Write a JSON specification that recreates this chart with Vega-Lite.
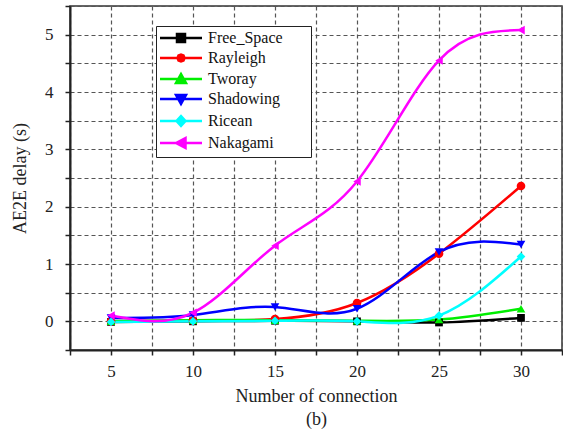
{
  "$schema": "https://vega.github.io/schema/vega-lite/v6.json",
  "width": 492,
  "height": 344,
  "autosize": {"type": "none"},
  "padding": {"left": 70, "top": 6, "right": 1, "bottom": 83},
  "background": "white",
  "config": {
    "view": {"stroke": "#333", "strokeWidth": 1.5},
    "font": "Liberation Serif, Times New Roman, serif",
    "axis": {
      "labelFont": "Liberation Serif, Times New Roman, serif",
      "titleFont": "Liberation Serif, Times New Roman, serif",
      "labelColor": "#222",
      "titleColor": "#222",
      "titleFontWeight": "normal",
      "domainColor": "#222",
      "domainWidth": 2,
      "tickColor": "#222",
      "tickWidth": 1.5,
      "tickSize": 5,
      "grid": true,
      "gridColor": "#555",
      "gridDash": [4, 3],
      "gridWidth": 1.2,
      "gridOpacity": 1
    },
    "legend": {
      "orient": "none",
      "legendX": 86,
      "legendY": 20,
      "padding": 4,
      "strokeColor": "#222",
      "fillColor": "white",
      "labelFont": "Liberation Serif, Times New Roman, serif",
      "labelFontSize": 16,
      "labelColor": "#111",
      "labelOffset": 32,
      "rowPadding": 2,
      "symbolSize": 100,
      "symbolOffset": 0,
      "symbolStrokeWidth": 2.5,
      "symbolOpacity": 1
    }
  },
  "data": {
    "values": [
      {"x": 5, "series": "Free_Space", "v": -0.01},
      {"x": 10, "series": "Free_Space", "v": 0.0},
      {"x": 15, "series": "Free_Space", "v": 0.01},
      {"x": 20, "series": "Free_Space", "v": 0.0},
      {"x": 25, "series": "Free_Space", "v": -0.02},
      {"x": 30, "series": "Free_Space", "v": 0.06},
      {"x": 5, "series": "Rayleigh", "v": 0.0},
      {"x": 10, "series": "Rayleigh", "v": 0.01},
      {"x": 15, "series": "Rayleigh", "v": 0.04},
      {"x": 20, "series": "Rayleigh", "v": 0.32},
      {"x": 25, "series": "Rayleigh", "v": 1.18},
      {"x": 30, "series": "Rayleigh", "v": 2.36},
      {"x": 5, "series": "Tworay", "v": 0.0},
      {"x": 10, "series": "Tworay", "v": 0.02},
      {"x": 15, "series": "Tworay", "v": 0.02},
      {"x": 20, "series": "Tworay", "v": 0.01},
      {"x": 25, "series": "Tworay", "v": 0.03},
      {"x": 30, "series": "Tworay", "v": 0.22},
      {"x": 5, "series": "Shadowing", "v": 0.06},
      {"x": 10, "series": "Shadowing", "v": 0.11},
      {"x": 15, "series": "Shadowing", "v": 0.25},
      {"x": 20, "series": "Shadowing", "v": 0.22},
      {"x": 25, "series": "Shadowing", "v": 1.21},
      {"x": 30, "series": "Shadowing", "v": 1.34},
      {"x": 5, "series": "Ricean", "v": -0.01},
      {"x": 10, "series": "Ricean", "v": 0.0},
      {"x": 15, "series": "Ricean", "v": 0.01},
      {"x": 20, "series": "Ricean", "v": 0.0},
      {"x": 25, "series": "Ricean", "v": 0.1},
      {"x": 30, "series": "Ricean", "v": 1.13},
      {"x": 5, "series": "Nakagami", "v": 0.1},
      {"x": 10, "series": "Nakagami", "v": 0.15},
      {"x": 15, "series": "Nakagami", "v": 1.32},
      {"x": 20, "series": "Nakagami", "v": 2.44},
      {"x": 25, "series": "Nakagami", "v": 4.55},
      {"x": 30, "series": "Nakagami", "v": 5.08}
    ]
  },
  "encoding": {
    "x": {
      "field": "x",
      "type": "quantitative",
      "scale": {"domain": [2.5, 32.5], "nice": false, "zero": false},
      "axis": {
        "values": [2.5, 5, 7.5, 10, 12.5, 15, 17.5, 20, 22.5, 25, 27.5, 30, 32.5],
        "labelExpr": "datum.value % 5 === 0 ? format(datum.value, 'd') : ''",
        "labelFontSize": 17,
        "labelPadding": 8,
        "title": ["Number of connection", "(b)"],
        "titleFontSize": 18,
        "titleLineHeight": 23,
        "titlePadding": 8
      }
    },
    "y": {
      "field": "v",
      "type": "quantitative",
      "scale": {"domain": [-0.5, 5.5], "nice": false, "zero": false},
      "axis": {
        "values": [-0.5, 0, 0.5, 1, 1.5, 2, 2.5, 3, 3.5, 4, 4.5, 5, 5.5],
        "labelExpr": "datum.value % 1 === 0 ? format(datum.value, 'd') : ''",
        "labelFontSize": 17,
        "labelPadding": 12,
        "title": "AE2E delay (s)",
        "titleFontSize": 18,
        "titlePadding": 15
      }
    },
    "color": {
      "field": "series",
      "type": "nominal",
      "scale": {
        "domain": ["Free_Space", "Rayleigh", "Tworay", "Shadowing", "Ricean", "Nakagami"],
        "range": ["#000000", "#ff0000", "#00ee00", "#0000ff", "#00ffff", "#ff00ff"]
      },
      "legend": {"title": null}
    }
  },
  "layer": [
    {
      "mark": {"type": "line", "interpolate": "natural", "strokeWidth": 2.5},
      "encoding": {"detail": {"field": "series"}}
    },
    {
      "transform": [{"filter": "datum.series === 'Free_Space'"}],
      "mark": {"type": "point", "filled": true, "shape": "square", "size": 60, "opacity": 1}
    },
    {
      "transform": [{"filter": "datum.series === 'Rayleigh'"}],
      "mark": {"type": "point", "filled": true, "shape": "circle", "size": 75, "opacity": 1}
    },
    {
      "transform": [{"filter": "datum.series === 'Tworay'"}],
      "mark": {"type": "point", "filled": true, "shape": "triangle-up", "size": 75, "opacity": 1}
    },
    {
      "transform": [{"filter": "datum.series === 'Shadowing'"}],
      "mark": {"type": "point", "filled": true, "shape": "triangle-down", "size": 75, "opacity": 1}
    },
    {
      "transform": [{"filter": "datum.series === 'Ricean'"}],
      "mark": {"type": "point", "filled": true, "shape": "diamond", "size": 75, "opacity": 1}
    },
    {
      "transform": [{"filter": "datum.series === 'Nakagami'"}],
      "mark": {"type": "point", "filled": true, "shape": "triangle-left", "size": 75, "opacity": 1}
    },
    {
      "mark": {"type": "point", "filled": true, "size": 0},
      "encoding": {
        "shape": {
          "field": "series",
          "type": "nominal",
          "scale": {
            "domain": ["Free_Space", "Rayleigh", "Tworay", "Shadowing", "Ricean", "Nakagami"],
            "range": [
              "M-1.6,0H6.8M1.8,-0.8H3.4V0.8H1.8ZM26.7,0",
              "M-1.6,0H6.8M3.3,0L3.1,0.5L2.6,0.7L2.1,0.5L1.9,0L2.1,-0.5L2.6,-0.7L3.1,-0.5ZM26.7,0",
              "M-1.6,0H6.8M2.6,-1L3.6,0.8H1.6ZM26.7,0",
              "M-1.6,0H6.8M2.6,1L3.6,-0.8H1.6ZM26.7,0",
              "M-1.6,0H6.8M2.6,-1L3.5,0L2.6,1L1.7,0ZM26.7,0",
              "M-1.6,0H6.8M1.6,0L3.5,-1V1ZM26.7,0"
            ]
          },
          "legend": {"title": null}
        }
      }
    }
  ]
}
